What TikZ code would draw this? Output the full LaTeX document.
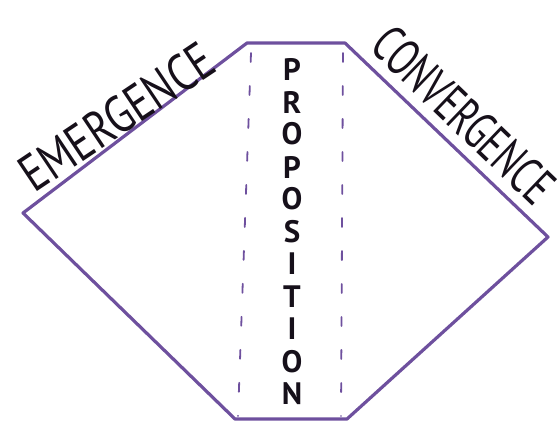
\documentclass[tikz,border=0pt]{standalone}
\usepackage{fontspec}
\setmainfont{PT Sans}
\usepackage{tikz}
\definecolor{lilac}{RGB}{110,80,158}
\definecolor{ink}{RGB}{22,16,26}
\tikzset{
  outline/.style = {draw=lilac, line width=3.2pt, line join=round},
  guide/.style = {draw=lilac, line width=1.8pt, line cap=round,
    dash pattern=on 9pt off 24pt},
  edgetext/.style = {ink, font=\fontsize{52}{52}\selectfont, inner sep=0pt,
    anchor=base},% titre le long du bord
  letter/.style = {ink, font=\bfseries\fontsize{31}{31}\selectfont,
    inner sep=0pt, anchor=center},% lettre verticale
}
\begin{document}
\begin{tikzpicture}[x=1pt,y=-1pt]
  \useasboundingbox (0,0) rectangle (558,421);

  % corners of the shape
  \coordinate (left) at (23,213);
  \coordinate (tl) at (247,43);
  \coordinate (tr) at (345,43);
  \coordinate (right) at (548,237);
  \coordinate (br) at (347,419);
  \coordinate (bl) at (235,419);

  % dashed guides
  \coordinate (g1t) at (251,53);
  \coordinate (g1b) at (238,416);
  \coordinate (g2t) at (343,53);
  \coordinate (g2b) at (341,416);
  \path[guide] (g1t) -- (g1b);
  \path[guide] (g2t) -- (g2b);

  \path[outline] (left) -- (tl) -- (tr) -- (right) -- (br) -- (bl) -- cycle;

  % titles on the slopes
  \node[edgetext, rotate=33.8, xscale=0.80] (emer) at (127,132) {EMERGENCE};
  \node[edgetext, rotate=-43.8, xscale=0.68] (conv) at (451,128) {CONVERGENCE};

  % vertical word
  \node[letter] (p1) at (292,69) {P};
  \node[letter] (r1) at (292,102) {R};
  \node[letter] (o1) at (292,134) {O};
  \node[letter] (p2) at (292,167) {P};
  \node[letter] (o2) at (292,199) {O};
  \node[letter] (s1) at (292,232) {S};
  \node[letter] (i1) at (292,264) {I};
  \node[letter] (t1) at (292,297) {T};
  \node[letter] (i2) at (292,329) {I};
  \node[letter] (o3) at (292,362) {O};
  \node[letter] (n1) at (292,394) {N};
\end{tikzpicture}
\end{document}
